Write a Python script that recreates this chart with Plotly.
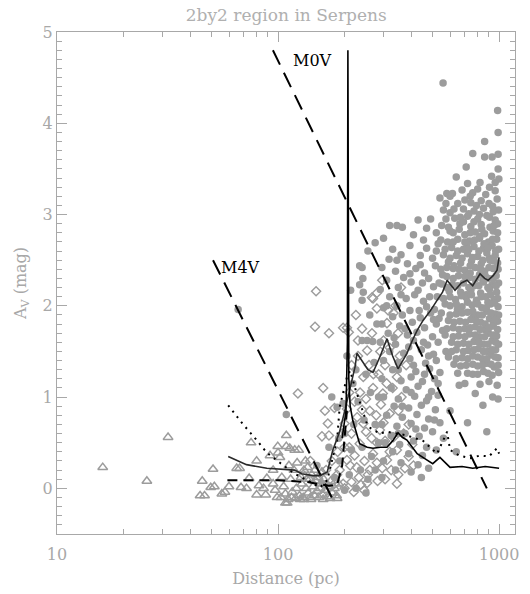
import math
import plotly.graph_objects as go

# ---------------- data ----------------
title_text = "2by2 region in Serpens"
x_tick_vals = [10, 100, 1000]
x_tick_text = ["10", "100", "1000"]
y_tick_vals = [0, 1, 2, 3, 4, 5]

triangles = [
    (16.1, 0.23), (25.5, 0.08), (31.8, 0.56), (44.4, -0.08), (46.5, -0.08), (45.4, 0.08),
    (50.8, 0.21), (51.5, 0.02), (49.6, 0.01), (55.7, -0.06), (57.5, -0.04), (60, 0.02),
    (65, 0.22), (67, 0.22), (68, 0.01), (72, 0.0), (74, 0.11), (75.5, 0.5), (80, 0.3),
    (82, 0.03), (80, -0.07), (86, 0.0), (88, -0.07), (89, 0.11), (92, 0.36), (95, 0.05),
    (95, 0.2), (97, -0.02), (99, -0.1), (99.7, 0.46), (100, 0.39), (102, 0.34), (104, 0.12),
    (103, -0.1), (106, 0.02), (108, -0.06), (108, -0.16), (110, -0.16), (109, 0.58),
    (109, 0.46), (111, -0.12), (112, 0.25), (113, 0.44), (114, 0.1), (115, -0.1),
    (116, -0.04), (118, 0.2), (119, 0.42), (121, 0.0), (122, 0.28), (124, 0.42),
    (125, -0.08), (126, -0.12), (127, 0.12), (128, 0.05), (130, -0.1), (131, 0.2),
    (133, 0.3), (134, 0.0), (135, 0.1), (136, 0.23), (137, -0.05), (139, 0.1),
    (141, -0.12), (142, 0.15), (144, 0.02), (146, -0.08), (147, 0.2), (148, 0.08),
    (150, -0.03), (152, 0.12), (153, -0.1), (155, 0.0), (157, 0.05), (158, 0.18),
    (159, -0.07), (160, -0.12), (161, 0.1), (163, -0.02), (165, 0.04), (168, -0.09),
    (170, 0.02), (172, -0.11), (173, 0.08), (176, -0.05), (180, 0.0), (184, -0.08),
    (188, 0.05), (185, -0.11), (120, -0.11), (140, -0.1), (131, -0.12),
]

diamonds = [
    (148.6, 2.16), (147, 1.77), (170, 1.70), (205, 1.76), (123, 1.04), (160, 1.10),
    (163, 0.85), (168, 0.71), (158, 0.57), (170, 0.58), (180, 0.88), (205, 0.87),
    (200, 0.71), (209, 1.71), (266, 2.09), (280, 2.14), (296, 2.28), (269, 2.08),
    (280, 1.97), (311, 1.81), (333, 1.92), (349, 1.70), (320, 1.54), (266, 1.70),
    (253, 1.51), (243, 1.22), (269, 1.10), (298, 1.04), (260, 0.85), (320, 0.82),
    (243, 0.71), (289, 0.64), (333, 0.56), (234, 0.49), (269, 0.38), (311, 0.31),
    (205, 0.31), (227, 0.23), (260, 0.20), (296, 0.22), (197, 1.76), (240, 1.75),
    (225, 1.90), (290, 1.50), (305, 1.35), (230, 1.45), (215, 1.35), (285, 1.25),
    (310, 1.15), (235, 1.05), (250, 0.98), (222, 0.95), (240, 0.86), (278, 0.80),
    (300, 0.72), (215, 0.60), (250, 0.62), (280, 0.50), (305, 0.52), (345, 0.42),
    (200, 0.45), (222, 0.36), (246, 0.30), (280, 0.28), (190, 0.20), (212, 0.25),
    (232, 0.12), (255, 0.15), (282, 0.08), (305, 0.10), (180, 0.05), (200, 0.00),
    (220, -0.04), (245, -0.02), (197, 0.05), (215, 0.07), (237, 0.04), (253, 0.06),
    (140, 0.30), (130, 0.15), (150, 0.10), (165, 0.20), (175, 0.30), (186, 0.40),
    (350, 0.15), (375, 0.22), (410, 0.25), (355, 1.45), (380, 1.35), (345, 1.22),
    (362, 1.00), (390, 0.70), (405, 0.48), (340, 2.00), (360, 2.20), (315, 1.95),
    (230, 1.62), (258, 1.35), (330, 1.10), (350, 0.85), (370, 0.60), (325, 0.20),
    (210, 1.05), (195, 0.60), (185, 0.15), (265, 0.55), (292, 0.92), (228, 0.78),
    (210, 0.45), (270, 1.25), (320, 0.40), (345, 0.05), (390, 0.35), (300, 1.62),
]

circles_near = [
    (66, 1.96), (109, 0.81), (234, 2.44), (242, 2.30), (234, 2.23), (243, 2.15),
    (213, 2.17), (205, 1.45), (175, 1.00), (197, 0.93), (185, 0.89), (218, 1.15),
    (240, 1.62), (253, 1.62), (268, 1.61), (240, 2.06), (260, 1.90), (280, 1.80),
    (225, 1.30), (250, 1.25), (272, 1.38), (230, 0.95), (262, 1.05), (285, 1.00),
    (200, 0.60), (220, 0.70), (245, 0.75), (275, 0.70), (190, 0.30), (215, 0.42),
    (240, 0.45), (265, 0.35), (285, 0.50), (210, 0.15), (236, 0.20), (255, 0.10),
    (275, 0.20), (160, 0.05), (180, 0.12), (200, -0.02), (225, 0.00), (250, -0.05),
    (150, 0.25), (170, 0.45), (188, 0.55), (255, 2.60), (275, 2.69), (240, 2.42),
]

circles_mid = [
    (320, 2.88), (345, 2.88), (365, 2.86), (430, 2.94), (490, 2.95),
    (300, 2.74), (410, 2.78), (455, 2.72), (520, 2.80),
    (330, 2.62), (395, 2.66), (470, 2.63), (530, 2.68),
    (318, 2.51), (360, 2.56), (385, 2.46), (440, 2.55), (500, 2.52),
    (295, 2.42), (340, 2.38), (420, 2.41), (460, 2.36), (515, 2.44),
    (310, 2.28), (370, 2.31), (400, 2.26), (480, 2.30), (535, 2.25),
    (290, 2.18), (350, 2.20), (430, 2.17), (505, 2.21),
    (320, 2.10), (380, 2.08), (415, 2.12), (455, 2.05), (525, 2.10),
    (300, 1.98), (345, 2.00), (395, 1.95), (470, 1.99), (510, 1.96),
    (330, 1.88), (365, 1.90), (440, 1.87), (490, 1.92), (535, 1.86),
    (295, 1.80), (355, 1.78), (405, 1.82), (460, 1.76), (520, 1.80),
    (315, 1.70), (385, 1.68), (425, 1.71), (500, 1.66),
    (290, 1.60), (340, 1.58), (410, 1.62), (475, 1.57), (530, 1.60),
    (320, 1.50), (370, 1.48), (445, 1.52), (505, 1.47),
    (300, 1.40), (350, 1.38), (395, 1.42), (465, 1.37), (520, 1.40),
    (330, 1.30), (420, 1.28), (485, 1.31), (540, 1.27),
    (295, 1.20), (360, 1.18), (400, 1.22), (450, 1.17), (510, 1.20),
    (325, 1.10), (380, 1.08), (430, 1.12), (495, 1.06),
    (300, 1.00), (350, 0.98), (415, 1.01), (470, 0.96), (530, 1.02),
    (335, 0.90), (390, 0.88), (445, 0.91), (515, 0.86),
    (310, 0.80), (365, 0.78), (425, 0.81), (480, 0.76),
    (295, 0.70), (345, 0.68), (400, 0.71), (460, 0.66), (540, 0.72),
    (325, 0.58), (375, 0.60), (435, 0.57), (500, 0.62),
    (305, 0.50), (355, 0.48), (410, 0.52), (470, 0.45),
    (330, 0.40), (390, 0.38), (450, 0.36), (520, 0.42),
    (300, 0.30), (360, 0.28), (430, 0.26),
    (340, 0.20), (400, 0.18), (480, 0.22),
    (295, 0.12), (445, 0.12),
    (310, 2.00), (360, 2.12), (450, 2.25), (485, 2.10), (440, 2.45), (395, 2.35),
    (345, 2.50), (520, 2.60), (470, 2.85), (375, 1.75), (435, 1.95), (505, 1.85),
    (335, 1.65), (455, 1.60), (390, 1.55), (350, 1.30), (410, 1.35), (480, 1.45),
    (530, 1.15), (400, 1.05), (460, 1.25), (365, 0.90), (480, 1.00), (420, 0.65),
    (510, 0.75), (350, 0.60),
]

circles_far = [
    (558, 4.44), (985, 4.14), (990, 3.90), (860, 3.80), (760, 3.67), (990, 3.66),
    (860, 3.63), (930, 3.63), (710, 3.52), (990, 3.50), (640, 3.41), (720, 3.34),
    (820, 3.35), (925, 3.42), (998, 3.39), (580, 3.23), (615, 3.23), (540, 3.18),
    (680, 3.27), (760, 3.24), (800, 3.28), (870, 3.22), (960, 3.26),
    (650, 3.12), (700, 3.16), (745, 3.13), (830, 3.15), (900, 3.12), (980, 3.17),
    (560, 3.05), (600, 3.02), (690, 3.06), (770, 3.04), (850, 3.07), (940, 3.03), (995, 3.05),
    (630, 2.96), (720, 2.98), (800, 2.95), (880, 2.99), (960, 2.94), (668, 2.97),
    (550, 2.88), (590, 2.86), (665, 2.90), (745, 2.87), (830, 2.89), (910, 2.86), (985, 2.90),
    (620, 2.80), (700, 2.78), (780, 2.81), (860, 2.79), (940, 2.82), (818, 2.76),
    (545, 2.72), (585, 2.70), (650, 2.73), (735, 2.71), (815, 2.74), (895, 2.70), (975, 2.73),
    (610, 2.64), (690, 2.62), (770, 2.65), (850, 2.63), (930, 2.66), (995, 2.62), (715, 2.68),
    (560, 2.56), (640, 2.55), (720, 2.57), (800, 2.54), (880, 2.58), (960, 2.55), (905, 2.52),
    (590, 2.48), (670, 2.47), (750, 2.49), (830, 2.46), (910, 2.50), (985, 2.47), (625, 2.44),
    (545, 2.40), (620, 2.41), (700, 2.39), (780, 2.42), (860, 2.38), (940, 2.41), (740, 2.36),
    (580, 2.32), (655, 2.33), (735, 2.31), (815, 2.34), (895, 2.30), (970, 2.33), (845, 2.28),
    (550, 2.24), (615, 2.23), (690, 2.25), (770, 2.22), (850, 2.26), (930, 2.23), (995, 2.25),
    (595, 2.16), (670, 2.15), (745, 2.17), (825, 2.14), (905, 2.18), (975, 2.15), (710, 2.12),
    (560, 2.08), (635, 2.07), (710, 2.09), (790, 2.06), (870, 2.10), (950, 2.07), (890, 2.04),
    (600, 2.00), (680, 1.99), (755, 2.01), (835, 1.98), (915, 2.02), (990, 1.99), (648, 1.96),
    (548, 1.92), (640, 1.91), (720, 1.93), (800, 1.90), (880, 1.94), (960, 1.91), (765, 1.88),
    (590, 1.84), (665, 1.83), (745, 1.85), (825, 1.82), (905, 1.86), (985, 1.83), (940, 1.80),
    (620, 1.76), (700, 1.75), (780, 1.77), (860, 1.74), (940, 1.78), (555, 1.73),
    (570, 1.68), (655, 1.67), (735, 1.69), (815, 1.66), (895, 1.70), (975, 1.67),
    (610, 1.60), (690, 1.59), (770, 1.61), (850, 1.58), (930, 1.62), (995, 1.58),
    (640, 1.52), (725, 1.51), (805, 1.53), (885, 1.50), (965, 1.52), (575, 1.50),
    (590, 1.44), (680, 1.43), (760, 1.45), (840, 1.42), (920, 1.46), (990, 1.43),
    (710, 1.35), (800, 1.34), (880, 1.37), (950, 1.33), (625, 1.36),
    (650, 1.26), (760, 1.25), (850, 1.28), (930, 1.24), (995, 1.27),
    (700, 1.15), (820, 1.14), (900, 1.17), (980, 1.13), (660, 1.13),
    (780, 1.04), (935, 1.00), (845, 0.91), (990, 0.98), (600, 0.85),
    (720, 0.72), (880, 0.62), (560, 0.55), (640, 0.40),
]

circles_far_fill = [
    (600, 3.20), (740, 3.20), (905, 3.30), (960, 3.35),
    (575, 3.12), (790, 3.10), (935, 3.09),
    (625, 3.06), (730, 3.01), (815, 3.00), (905, 2.97),
    (575, 2.95), (690, 2.92), (770, 2.92), (950, 2.88),
    (600, 2.82), (660, 2.84), (740, 2.80), (835, 2.84), (985, 2.80),
    (620, 2.70), (700, 2.70), (775, 2.72), (855, 2.68), (935, 2.73),
    (570, 2.62), (650, 2.60), (730, 2.62), (810, 2.60), (890, 2.63), (965, 2.60),
    (600, 2.52), (680, 2.52), (760, 2.53), (845, 2.50), (945, 2.49),
    (580, 2.42), (660, 2.40), (740, 2.44), (825, 2.40), (900, 2.42), (990, 2.40),
    (555, 2.34), (620, 2.30), (700, 2.32), (780, 2.29), (865, 2.33), (940, 2.30),
    (580, 2.20), (650, 2.22), (730, 2.20), (810, 2.22), (890, 2.20), (970, 2.22),
    (600, 2.10), (675, 2.11), (750, 2.12), (830, 2.10), (915, 2.12), (985, 2.08),
    (570, 2.02), (640, 2.02), (720, 2.04), (800, 2.02), (875, 1.98), (955, 2.03),
    (600, 1.90), (680, 1.92), (760, 1.94), (840, 1.90), (920, 1.92), (995, 1.90),
    (625, 1.82), (705, 1.82), (785, 1.84), (865, 1.80), (960, 1.85),
    (580, 1.75), (660, 1.74), (740, 1.76), (820, 1.74), (900, 1.76), (985, 1.74),
    (620, 1.66), (700, 1.66), (780, 1.68), (860, 1.66), (940, 1.68),
    (650, 1.58), (730, 1.58), (810, 1.60), (890, 1.58), (965, 1.60),
    (610, 1.50), (690, 1.50), (770, 1.52), (850, 1.50), (930, 1.52),
    (640, 1.42), (720, 1.42), (800, 1.44), (880, 1.42), (960, 1.44),
    (670, 1.34), (760, 1.36), (840, 1.35), (920, 1.36), (990, 1.35),
    (720, 1.26), (800, 1.25), (890, 1.26),
]

m4v_d = [50.8, 175]
m4v_av = [2.50, -0.10]
m0v_d = [94.8, 880]
m0v_av = [4.80, 0.0]

solid_rise_d = [59.5, 72, 89, 102, 119, 128, 144, 155, 167, 177, 190, 205, 212, 223,
                227.5, 240, 255, 269, 290, 311, 330, 349, 365, 383, 405, 426, 453, 490,
                524, 555, 582, 632, 675, 716, 760, 820, 860, 892, 940, 979, 1000]
solid_rise_av = [0.35, 0.26, 0.22, 0.21, 0.20, 0.16, 0.14, 0.14, 0.18, 0.42, 0.62, 0.95,
                 1.10, 1.33, 1.48, 1.40, 1.30, 1.27, 1.45, 1.64, 1.45, 1.31, 1.40, 1.48,
                 1.62, 1.73, 1.84, 1.95, 2.06, 2.15, 2.28, 2.17, 2.25, 2.28, 2.22, 2.35,
                 2.30, 2.28, 2.33, 2.39, 2.53]

solid_spike_d = [195, 203, 206, 207, 209, 212, 218, 227, 234, 253, 269, 290, 311, 330,
                 349, 365, 383, 405, 426, 465, 501, 540, 600, 680, 760, 865, 1000]
solid_spike_av = [0.55, 0.85, 1.6, 4.80, 1.2, 0.9, 0.74, 0.60, 0.49, 0.45, 0.44, 0.45,
                  0.45, 0.52, 0.61, 0.56, 0.53, 0.45, 0.38, 0.32, 0.27, 0.34, 0.23,
                  0.24, 0.22, 0.24, 0.22]

dotted_d = [59.5, 69, 80, 89, 102, 119, 140, 155, 167, 185, 190, 205, 212, 223, 234,
            253, 262, 289, 311, 383, 453, 524, 582, 600, 660, 740, 820, 900, 979, 1000]
dotted_av = [0.91, 0.71, 0.53, 0.39, 0.28, 0.16, 0.07, 0.01, 0.09, 0.53, 0.89, 1.22,
             1.29, 1.10, 0.95, 0.70, 0.66, 0.60, 0.62, 0.58, 0.52, 0.38, 0.62, 0.42,
             0.36, 0.33, 0.36, 0.35, 0.44, 0.38]

dashed_low_d = [59, 80, 100, 115, 135, 150, 170, 185, 195, 205]
dashed_low_av = [0.09, 0.09, 0.09, 0.08, 0.07, 0.05, 0.03, 0.04, 0.25, 0.85]

labels = [("M0V", 143.5, 4.69), ("M4V", 67.5, 2.42)]

# ---------------- figure ----------------
GRAY = "#9c9c9c"
AXIS = "#a8a8a8"
FONT = "DejaVu Serif"

fig = go.Figure()

def pts(lst):
    return [p[0] for p in lst], [p[1] for p in lst]

tx, ty = pts(triangles)
fig.add_trace(go.Scatter(x=tx, y=ty, mode="markers",
                         marker=dict(symbol="triangle-up-open", size=8.5, color=GRAY,
                                     line=dict(width=1.5, color=GRAY))))
dx, dy = pts(diamonds)
fig.add_trace(go.Scatter(x=dx, y=dy, mode="markers",
                         marker=dict(symbol="diamond-open", size=7, color=GRAY,
                                     line=dict(width=1.4, color=GRAY))))
for grp in (circles_near, circles_mid, circles_far, circles_far_fill):
    cx, cy = pts(grp)
    fig.add_trace(go.Scatter(x=cx, y=cy, mode="markers",
                             marker=dict(symbol="circle", size=7.5, color=GRAY,
                                         line=dict(width=0))))

fig.add_trace(go.Scatter(x=m4v_d, y=m4v_av, mode="lines",
                         line=dict(color="black", width=2, dash="16px,9px")))
fig.add_trace(go.Scatter(x=m0v_d, y=m0v_av, mode="lines",
                         line=dict(color="black", width=2, dash="16px,9px")))
fig.add_trace(go.Scatter(x=dashed_low_d, y=dashed_low_av, mode="lines",
                         line=dict(color="black", width=2, dash="10px,6px")))
fig.add_trace(go.Scatter(x=dotted_d, y=dotted_av, mode="lines",
                         line=dict(color="black", width=2, dash="2px,5px")))
fig.add_trace(go.Scatter(x=solid_rise_d, y=solid_rise_av, mode="lines",
                         line=dict(color="#2a2a2a", width=1.6)))
fig.add_trace(go.Scatter(x=solid_spike_d, y=solid_spike_av, mode="lines",
                         line=dict(color="black", width=1.6)))

for txt, lx, ly in labels:
    fig.add_annotation(x=math.log10(lx), y=ly, xref="x", yref="y", text=txt,
                       showarrow=False,
                       font=dict(family=FONT, size=16, color="black"))

minor_x = [20, 30, 40, 50, 60, 70, 80, 90, 200, 300, 400, 500, 600, 700, 800, 900]

fig.update_layout(
    width=530, height=594,
    paper_bgcolor="white", plot_bgcolor="white",
    showlegend=False,
    margin=dict(l=57, r=15, t=32, b=60),
    title=dict(text=title_text, x=0.54, xanchor="center", y=0.985, yanchor="top",
               font=dict(family=FONT, size=17, color="#b0b0b0")),
    font=dict(family=FONT, color=AXIS),
)
fig.update_xaxes(type="log", range=[1, 3.072], tickvals=x_tick_vals, ticktext=x_tick_text,
                 ticks="inside", ticklen=10, tickcolor=AXIS, tickwidth=1,
                 showline=True, linecolor=AXIS, linewidth=1, mirror="allticks",
                 showgrid=False, zeroline=False, automargin=False,
                 ticklabelstandoff=6,
                 tickfont=dict(family=FONT, size=16, color="#a8a8a8"),
                 minor=dict(tickvals=minor_x, ticks="inside", ticklen=5,
                            tickcolor=AXIS, showgrid=False),
                 title=dict(text="Distance (pc)", standoff=9,
                            font=dict(family=FONT, size=16, color="#a8a8a8")))
fig.update_yaxes(range=[-0.5, 5], tickvals=y_tick_vals,
                 ticks="inside", ticklen=10, tickcolor=AXIS, tickwidth=1,
                 showline=True, linecolor=AXIS, linewidth=1, mirror="allticks",
                 showgrid=False, zeroline=False, automargin=False,
                 tickfont=dict(family=FONT, size=16, color="#a8a8a8"),
                 minor=dict(dtick=0.1, ticks="inside", ticklen=5,
                            tickcolor=AXIS, showgrid=False),
                 title=dict(text="A<sub>V</sub> (mag)", standoff=12,
                            font=dict(family=FONT, size=16, color="#a8a8a8")))

fig.write_html("out.html", config={"displayModeBar": False},
               post_script="document.body.style.margin='0px';document.body.style.padding='0px';")
